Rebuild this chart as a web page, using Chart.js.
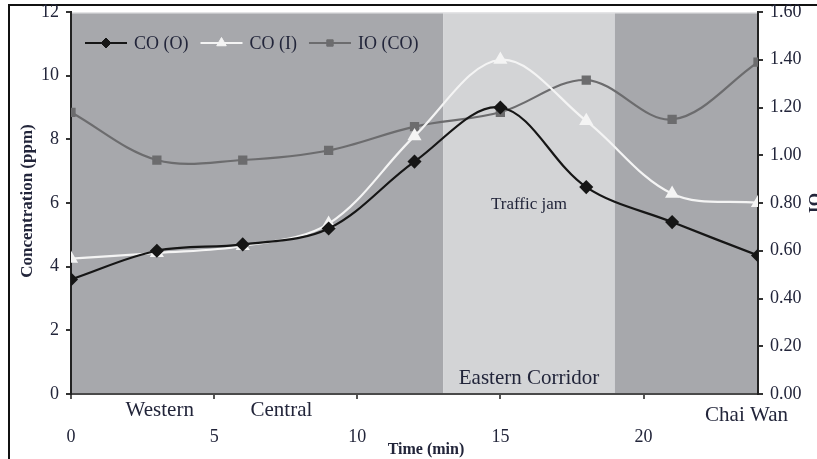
<!DOCTYPE html>
<html>
<head>
<meta charset="utf-8">
<script src="https://cdn.jsdelivr.net/npm/chart.js@4/dist/chart.umd.min.js"></script>
<style>
  html, body { margin: 0; padding: 0; background: #fff; }
  #wrap { width: 817px; height: 459px; position: relative; }
</style>
</head>
<body>
<div id="wrap"><canvas id="chart" width="817" height="459"></canvas></div>
<script>
// ---------------- DATA ----------------
const times   = [0, 3, 6, 9, 12, 15, 18, 21, 24];            // min
const coOut   = [3.6, 4.5, 4.7, 5.2, 7.3, 9.0, 6.5, 5.4, 4.35]; // ppm
const coIn    = [4.25, 4.43, 4.65, 5.35, 8.1, 10.5, 8.58, 6.29, 6.0];
const ioRatio = [1.18, 0.98, 0.98, 1.02, 1.12, 1.18, 1.315, 1.15, 1.39];

const seriesNames = ["CO (O)", "CO (I)", "IO (CO)"];

// route segments along the time axis (min)
const segmentFrom = [0, 13, 19];
const segmentTo   = [13, 19, 24];
const segmentName = ["", "Eastern Corridor", ""];
const jamLabel = "Traffic jam";

const placeNames = ["Western", "Central", "Chai Wan"];
const placeAt    = [3.1, 7.35, 23.6];

const xTicks = [0, 5, 10, 15, 20];

// ---------------- HELPERS ----------------
const SERIF = "'Liberation Serif', 'Times New Roman', serif";
const INK = "#22253a";
const pts = vals => vals.map((v, i) => ({ x: times[i], y: v }));

// fixed axis boxes so the plot sits where we want it
const fixBox = (w, h) => s => {
  if (w) s.width = w;
  if (h) s.height = h;
  s.paddingTop = 0; s.paddingBottom = 0; s.paddingLeft = 0; s.paddingRight = 0;
};

// shaded route segments behind the data
const bandsPlugin = {
  id: "bands",
  beforeDraw(chart) {
    const { ctx, chartArea: a, scales: { x } } = chart;
    const fills = ["#a7a8ac", "#d3d4d6", "#a7a8ac"];
    ctx.save();
    segmentFrom.forEach((s, i) => {
      const x0 = x.getPixelForValue(s), x1 = x.getPixelForValue(segmentTo[i]);
      ctx.fillStyle = fills[i];
      ctx.fillRect(x0, a.top, x1 - x0, a.bottom - a.top);
    });
    ctx.fillStyle = "#e4e4e6";
    ctx.fillRect(a.left, a.top, a.right - a.left, 1.5);

    // outer frame
    ctx.strokeStyle = "#111";
    ctx.lineWidth = 2;
    ctx.beginPath();
    ctx.moveTo(9, 459); ctx.lineTo(9, 5); ctx.lineTo(817, 5);
    ctx.stroke();
    ctx.restore();
  }
};

// labels inside / under the plot, titles and legend
const labelsPlugin = {
  id: "labels",
  beforeDatasetsDraw(chart) {
    const { ctx, chartArea: a, scales: { x, y } } = chart;
    ctx.save();
    ctx.fillStyle = INK;
    ctx.textAlign = "center";
    ctx.textBaseline = "middle";
    ctx.font = "21px " + SERIF;
    segmentName.forEach((n, i) => {
      if (!n) return;
      ctx.fillText(n, x.getPixelForValue((segmentFrom[i] + segmentTo[i]) / 2), a.bottom - 16);
    });
    ctx.font = "17px " + SERIF;
    ctx.fillText(jamLabel, x.getPixelForValue(16), y.getPixelForValue(5.95));
    ctx.restore();
  },
  afterDatasetsDraw(chart) {
    const { ctx, chartArea: a, scales: { x } } = chart;
    ctx.save();
    ctx.fillStyle = INK;
    ctx.textBaseline = "middle";

    // place names between axis and tick numbers
    ctx.textAlign = "center";
    ctx.font = "21px " + SERIF;
    placeNames.forEach((n, i) => {
      const dy = i === 2 ? 21 : 16;
      ctx.fillText(n, x.getPixelForValue(placeAt[i]), a.bottom + dy);
    });

    // axis titles
    ctx.font = "bold 16px " + SERIF;
    ctx.fillText("Time (min)", 426, 450);
    ctx.font = "bold 17px " + SERIF;
    ctx.save();
    ctx.translate(28, 201);
    ctx.rotate(-Math.PI / 2);
    ctx.fillText("Concentration (ppm)", 0, 0);
    ctx.restore();
    ctx.save();
    ctx.translate(816, 203);
    ctx.rotate(-Math.PI / 2);
    ctx.fillText("IO", 0, 0);
    ctx.restore();

    // legend: line with marker, then name
    ctx.font = "18px " + SERIF;
    ctx.textAlign = "left";
    let lx = a.left + 14;
    const ly = a.top + 31;
    chart.data.datasets.forEach(ds => {
      ctx.strokeStyle = ds.borderColor;
      ctx.lineWidth = 2;
      ctx.beginPath();
      ctx.moveTo(lx, ly); ctx.lineTo(lx + 42, ly);
      ctx.stroke();
      ctx.fillStyle = ds.pointBackgroundColor;
      ctx.strokeStyle = ds.pointBorderColor;
      ctx.lineWidth = 1;
      Chart.helpers.drawPoint(ctx, {
        pointStyle: ds.pointStyle, radius: ds.pointRadius - 0.5, borderWidth: 1
      }, lx + 21, ly);
      ctx.fillStyle = INK;
      ctx.fillText(ds.label, lx + 49, ly + 1);
      lx += 49 + ctx.measureText(ds.label).width + 12;
    });
    ctx.restore();
  }
};

// ---------------- CHART ----------------
const ctx = document.getElementById("chart").getContext("2d");
new Chart(ctx, {
  type: "line",
  data: {
    datasets: [
      {
        label: seriesNames[0], data: pts(coOut), yAxisID: "y",
        borderColor: "#161616", backgroundColor: "#161616",
        pointBackgroundColor: "#161616", pointBorderColor: "#161616",
        pointStyle: "rectRot", pointRadius: 5.5, borderWidth: 2.2, tension: 0.35
      },
      {
        label: seriesNames[1], data: pts(coIn), yAxisID: "y",
        borderColor: "#f4f4f4", backgroundColor: "#f4f4f4",
        pointBackgroundColor: "#f4f4f4", pointBorderColor: "#f4f4f4",
        pointStyle: "triangle", pointRadius: 6, borderWidth: 2.2, tension: 0.35
      },
      {
        label: seriesNames[2], data: pts(ioRatio), yAxisID: "y2",
        borderColor: "#6c6c6e", backgroundColor: "#6c6c6e",
        pointBackgroundColor: "#6c6c6e", pointBorderColor: "#6c6c6e",
        pointStyle: "rect", pointRadius: 5, borderWidth: 2.2, tension: 0.35
      }
    ]
  },
  options: {
    responsive: false,
    animation: false,
    layout: { padding: { top: 12, left: 0, right: 0, bottom: 0 } },
    plugins: { legend: { display: false }, tooltip: { enabled: false } },
    scales: {
      x: {
        type: "linear", min: 0, max: 24,
        afterFit: fixBox(0, 65),
        afterBuildTicks: s => { s.ticks = xTicks.map(v => ({ value: v })); },
        grid: { drawOnChartArea: false, tickLength: 5, color: "#555", lineWidth: 2 },
        border: { color: "#4a4a4a", width: 2 },
        ticks: { color: INK, font: { family: SERIF, size: 18 }, padding: 27, maxRotation: 0 }
      },
      y: {
        position: "left", min: 0, max: 12,
        afterFit: fixBox(71, 0),
        grid: { drawOnChartArea: false, tickLength: 5, color: "#333", lineWidth: 2 },
        border: { color: "#222", width: 2 },
        ticks: { stepSize: 2, color: INK, font: { family: SERIF, size: 18 }, padding: 7 }
      },
      y2: {
        position: "right", min: 0, max: 1.6,
        afterFit: fixBox(59, 0),
        grid: { drawOnChartArea: false, tickLength: 5, color: "#333", lineWidth: 2 },
        border: { color: "#222", width: 2 },
        ticks: {
          stepSize: 0.2, color: INK, font: { family: SERIF, size: 18 }, padding: 7,
          callback: v => v.toFixed(2)
        }
      }
    }
  },
  plugins: [bandsPlugin, labelsPlugin]
});
</script>
</body>
</html>
